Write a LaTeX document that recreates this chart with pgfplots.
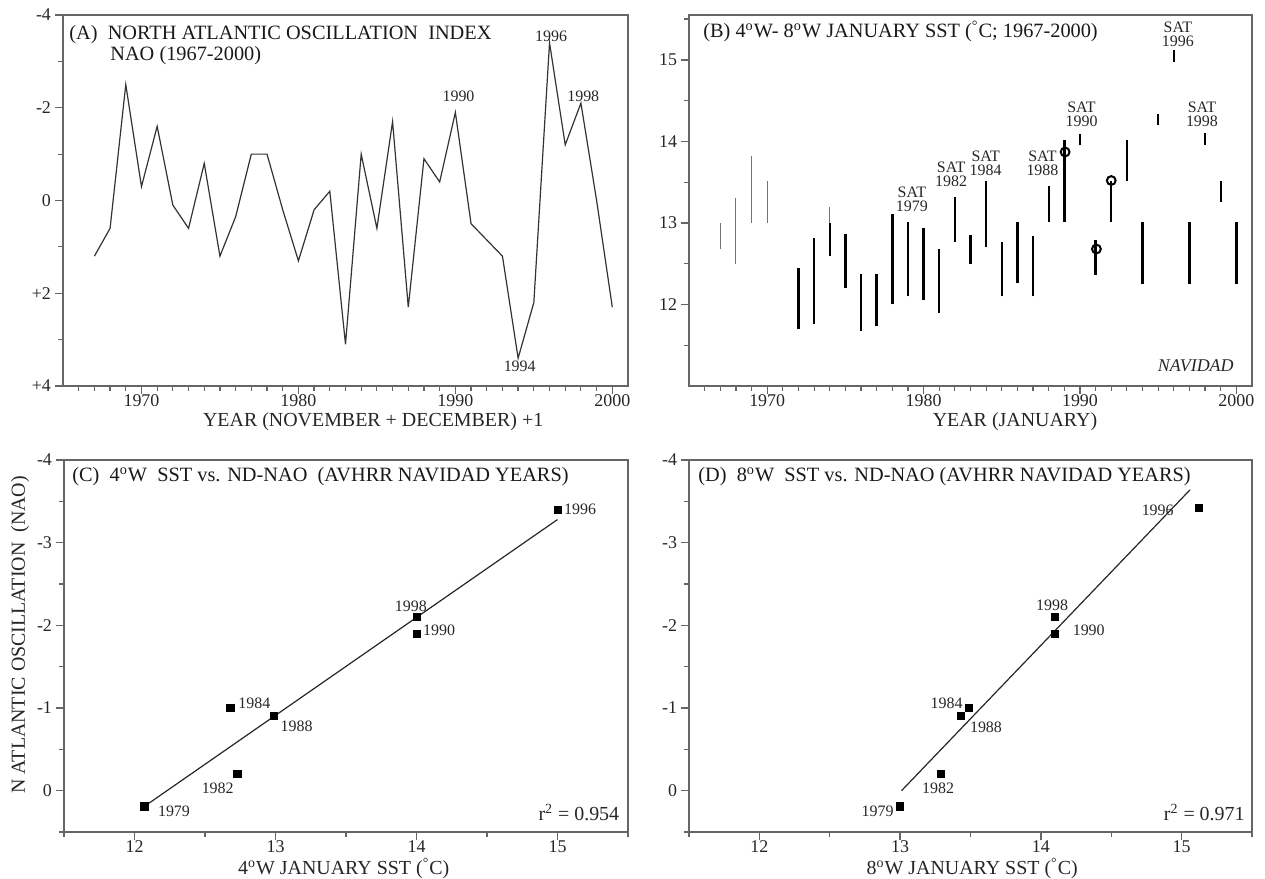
\documentclass[border=0pt]{standalone}
\usepackage{fontspec}
\setmainfont{Liberation Serif}
\usepackage{pgfplots}
\pgfplotsset{compat=1.18}

\pgfplotsset{
  panel/.style={
    scale only axis,
    anchor=south west,
    axis line style={black!60, line width=0.7bp},
    tick style={black!60, line width=0.7bp},
    minor tick style={black!60, line width=0.6bp},
    tick align=outside,
    xtick pos=left, ytick pos=left,
    major tick length=4bp, minor tick length=2.5bp,
    tick label style={font=\fontsize{9}{10}\selectfont, text=black!85},
    xticklabel style={yshift=3bp},
    yticklabel style={xshift=1.5bp},
    /pgf/number format/assume math mode=true,
    /pgf/number format/1000 sep={},
    label style={font=\fontsize{10}{12}\selectfont, text=black!85},
    clip=false,
  },
}
\tikzset{
  yearlab/.style={font=\fontsize{8}{9}\selectfont, text=black!85, inner sep=0pt},
  satlab/.style={font=\fontsize{8}{7}\selectfont, text=black!85, align=center, inner sep=0pt, anchor=south},
  ttl/.style={font=\fontsize{10.2}{12}\selectfont, text=black!90, anchor=base west, inner sep=0pt},
}

\begin{document}
\begin{tikzpicture}
\useasboundingbox (0,0) rectangle (632.5bp,-439.5bp);

% ---------------- (A) ----------------
\begin{axis}[panel, at={(31.5bp,-193bp)}, width=282.5bp, height=185.5bp,
  xmin=1965, xmax=2001, y dir=reverse, ymin=-4, ymax=4,
  xtick={1970,1980,1990,2000}, xticklabels={1970,1980,1990,2000},
  minor xtick={1966,...,2000},
  ytick={-4,-2,0,2,4}, yticklabels={-4,-2,0,+2,+4}, minor ytick={-3,-1,1,3},
  xlabel={YEAR (NOVEMBER + DECEMBER) +1},
  xlabel style={at={(axis description cs:0.549,-0.0957)}, anchor=center},
]
\addplot[black!80, line width=0.6bp] table {
x y
1967 1.2
1968 0.6
1969 -2.5
1970 -0.3
1971 -1.6
1972 0.1
1973 0.6
1974 -0.8
1975 1.2
1976 0.35
1977 -1.0
1978 -1.0
1979 0.2
1980 1.3
1981 0.2
1982 -0.2
1983 3.1
1984 -1.0
1985 0.6
1986 -1.7
1987 2.3
1988 -0.9
1989 -0.4
1990 -1.9
1991 0.5
1992 0.85
1993 1.2
1994 3.4
1995 2.2
1996 -3.4
1997 -1.2
1998 -2.1
1999 0.0
2000 2.3
};
\node[yearlab] at (axis cs:1990.2,-2.25) {1990};
\node[yearlab] at (axis cs:1996.1,-3.55) {1996};
\node[yearlab] at (axis cs:1998.15,-2.25) {1998};
\node[yearlab] at (axis cs:1994.1,3.58) {1994};
\node[ttl] at ([xshift=3bp,yshift=-12bp]axis description cs:0,1) {(A)\ \ NORTH ATLANTIC OSCILLATION\ \ INDEX};
\node[ttl] at ([xshift=23.5bp,yshift=-22.5bp]axis description cs:0,1) {NAO (1967-2000)};
\end{axis}

% ---------------- (B) ----------------
\begin{axis}[panel, at={(344.5bp,-193bp)}, width=281.5bp, height=185.5bp,
  xmin=1965, xmax=2001, ymin=11, ymax=15.55,
  xtick={1970,1980,1990,2000}, xticklabels={1970,1980,1990,2000},
  minor xtick={1966,...,2000},
  ytick={12,13,14,15}, yticklabels={12,13,14,15},
  minor ytick={11.5,12.5,13.5,14.5,15.5},
  xlabel={YEAR (JANUARY)},
  xlabel style={at={(axis description cs:0.579,-0.0957)}, anchor=center},
]
% thin gray ranges
\addplot[black!55, line width=0.55bp, unbounded coords=jump] table {
x y
1967 12.68
1967 13.0
1967 nan
1968 12.5
1968 13.3
1968 nan
1969 13.0
1969 13.82
1969 nan
1970 13.0
1970 13.52
1970 nan
1974 13.0
1974 13.2
};
% thick black ranges
\addplot[black, line width=1.2bp, unbounded coords=jump] table {
x y
1972 11.7
1972 12.45
1972 nan
1973 11.76
1973 12.81
1973 nan
1974 12.6
1974 13.0
1974 nan
1975 12.2
1975 12.86
1975 nan
1976 11.68
1976 12.37
1976 nan
1977 11.74
1977 12.37
1977 nan
1978 12.0
1978 13.11
1978 nan
1979 12.1
1979 13.01
1979 nan
1980 12.06
1980 12.94
1980 nan
1981 11.9
1981 12.68
1981 nan
1982 12.77
1982 13.32
1982 nan
1983 12.5
1983 12.85
1983 nan
1984 12.7
1984 13.52
1984 nan
1985 12.1
1985 12.77
1985 nan
1986 12.26
1986 13.01
1986 nan
1987 12.1
1987 12.84
1987 nan
1988 13.01
1988 13.45
1988 nan
1989 13.01
1989 14.02
1989 nan
1990 13.95
1990 14.09
1990 nan
1991 12.36
1991 12.79
1991 nan
1992 13.01
1992 13.52
1992 nan
1993 13.52
1993 14.02
1993 nan
1994 12.25
1994 13.01
1994 nan
1995 14.2
1995 14.34
1995 nan
1996 14.97
1996 15.12
1996 nan
1997 12.25
1997 13.01
1997 nan
1998 13.95
1998 14.1
1998 nan
1999 13.26
1999 13.52
1999 nan
2000 12.25
2000 13.01
};
\addplot[only marks, mark=o, mark size=2.2bp, black, mark options={line width=1bp, fill=white}] table {
x y
1989.05 13.87
1991.05 12.68
1992 13.52
};
\node[satlab] at (axis cs:1979.25,13.13) {SAT\\1979};
\node[satlab] at (axis cs:1981.76,13.44) {SAT\\1982};
\node[satlab] at (axis cs:1983.97,13.58) {SAT\\1984};
\node[satlab] at (axis cs:1987.6,13.58) {SAT\\1988};
\node[satlab] at (axis cs:1990.1,14.18) {SAT\\1990};
\node[satlab] at (axis cs:1996.26,15.16) {SAT\\1996};
\node[satlab] at (axis cs:1997.8,14.18) {SAT\\1998};
\node[anchor=east, inner sep=0pt, font=\fontsize{9}{10}\selectfont\itshape, text=black!85] at (axis cs:1999.85,11.25) {NAVIDAD};
\node[ttl] at ([xshift=7bp,yshift=-11.3bp]axis description cs:0,1) {(B) 4\textsuperscript{o}W- 8\textsuperscript{o}W JANUARY SST (\textsuperscript{\textdegree}C; 1967-2000)};
\end{axis}

% ---------------- (C) ----------------
\begin{axis}[panel, at={(32bp,-416bp)}, width=282bp, height=186bp,
  xmin=11.5, xmax=15.5, y dir=reverse, ymin=-4, ymax=0.5,
  xtick={12,13,14,15}, xticklabels={12,13,14,15},
  minor xtick={11.5,12.5,13.5,14.5,15.5},
  ytick={-4,-3,-2,-1,0}, yticklabels={-4,-3,-2,-1,0},
  minor ytick={-3.5,-2.5,-1.5,-0.5,0.5},
  xlabel={4\textsuperscript{o}W JANUARY SST (\textsuperscript{\textdegree}C)},
  xlabel style={at={(axis description cs:0.496,-0.097)}, anchor=center},
  ylabel={N ATLANTIC OSCILLATION\ \ (NAO)},
  ylabel style={at={(axis description cs:-0.078,0.53)}, anchor=center},
]
\addplot[black!85, line width=0.6bp] coordinates {(12.07,0.19) (15.0,-3.28)};
\addplot[only marks, mark=square*, mark size=1.8bp, black] table {
x y
12.07 0.19
12.73 -0.2
12.68 -1.0
12.99 -0.9
14.0 -1.9
14.0 -2.1
15.0 -3.4
};
\node[yearlab] at (axis cs:15.16,-3.4) {1996};
\node[yearlab] at (axis cs:13.96,-2.23) {1998};
\node[yearlab] at (axis cs:14.16,-1.94) {1990};
\node[yearlab] at (axis cs:12.85,-1.06) {1984};
\node[yearlab] at (axis cs:13.15,-0.78) {1988};
\node[yearlab] at (axis cs:12.59,-0.03) {1982};
\node[yearlab] at (axis cs:12.28,0.255) {1979};
\node[anchor=base east, inner sep=0pt, font=\fontsize{10}{12}\selectfont, text=black!85] at (axis cs:15.44,0.364) {r\textsuperscript{2} = 0.954};
\node[ttl] at ([xshift=4bp,yshift=-10.8bp]axis description cs:0,1) {(C)\ \ 4\textsuperscript{o}W\ \ SST vs. ND-NAO\ \ (AVHRR NAVIDAD YEARS)};
\end{axis}

% ---------------- (D) ----------------
\begin{axis}[panel, at={(344.5bp,-416bp)}, width=281.5bp, height=186bp,
  xmin=11.5, xmax=15.5, y dir=reverse, ymin=-4, ymax=0.5,
  xtick={12,13,14,15}, xticklabels={12,13,14,15},
  minor xtick={11.5,12.5,13.5,14.5,15.5},
  ytick={-4,-3,-2,-1,0}, yticklabels={-4,-3,-2,-1,0},
  minor ytick={-3.5,-2.5,-1.5,-0.5,0.5},
  xlabel={8\textsuperscript{o}W JANUARY SST (\textsuperscript{\textdegree}C)},
  xlabel style={at={(axis description cs:0.503,-0.097)}, anchor=center},
]
\addplot[black!85, line width=0.6bp] coordinates {(13.01,0.0) (15.06,-3.64)};
\addplot[only marks, mark=square*, mark size=1.8bp, black] table {
x y
13.0 0.19
13.29 -0.2
13.49 -1.0
13.43 -0.9
14.1 -1.9
14.1 -2.1
15.12 -3.42
};
\node[yearlab] at (axis cs:14.83,-3.39) {1996};
\node[yearlab] at (axis cs:14.08,-2.24) {1998};
\node[yearlab] at (axis cs:14.34,-1.94) {1990};
\node[yearlab] at (axis cs:13.33,-1.06) {1984};
\node[yearlab] at (axis cs:13.61,-0.77) {1988};
\node[yearlab] at (axis cs:13.27,-0.03) {1982};
\node[yearlab] at (axis cs:12.84,0.25) {1979};
\node[anchor=base east, inner sep=0pt, font=\fontsize{10}{12}\selectfont, text=black!85] at (axis cs:15.45,0.364) {r\textsuperscript{2} = 0.971};
\node[ttl] at ([xshift=4.5bp,yshift=-10.8bp]axis description cs:0,1) {(D)\ \ 8\textsuperscript{o}W\ \ SST vs. ND-NAO (AVHRR NAVIDAD YEARS)};
\end{axis}
\end{tikzpicture}
\end{document}
